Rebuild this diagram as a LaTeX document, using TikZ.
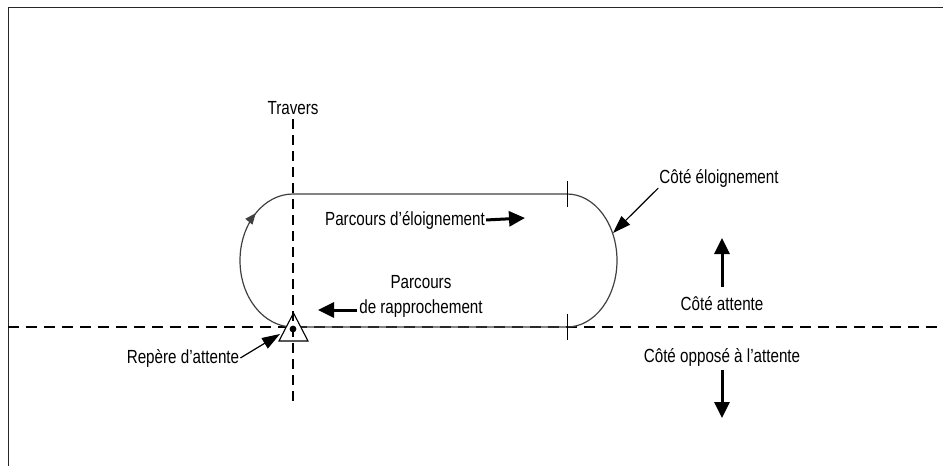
\documentclass[tikz,border=0pt]{standalone}
\usepackage{fontspec}
\setmainfont[FakeStretch=0.8]{Liberation Sans}
\usetikzlibrary{arrows.meta,decorations.markings}

\begin{document}
\begin{tikzpicture}[x=1pt,y=-1pt,>=Latex,
lbl/.style={font=\fontsize{19}{25}\selectfont,inner sep=1pt,align=center},
track/.style={line width=1.2pt,black!75},
axis/.style={line width=2pt,dash pattern=on 11pt off 7pt},
bigarrow/.style={-{Triangle[length=16pt,width=15pt]},line width=3pt},
pointer/.style={-{Triangle[length=18pt,width=12pt]},line width=1.2pt}]
 \useasboundingbox (0,0) rectangle (943,466);
 \draw[line width=1.6pt,black!85] (8.5,466) -- (8.5,7.5) -- (943,7.5);
 \coordinate (fix) at (293,327);
 \coordinate (abeam) at (293,194);
 \coordinate (endout) at (567,194);
 \coordinate (endin) at (567,327);
 \coordinate (armR) at (613,233);
 \coordinate (armfix) at (280,334);
 \coordinate (sideL) at (8,327);
 \coordinate (sideR) at (943,327);
 \coordinate (travT) at (293,119);
 \coordinate (travB) at (293,407);
 \coordinate (outtip) at (525,218);
 \coordinate (intail) at (357,310);
 \coordinate (intip) at (318,310);
 \coordinate (uptail) at (722,287);
 \coordinate (uptip) at (722,238);
 \coordinate (dntail) at (722,370);
 \coordinate (dntip) at (722,418);
 \draw[axis] (sideL) -- (sideR);
 \draw[track] (abeam) -- (endout) arc[start angle=-90,end angle=90,x radius=50,y radius=66.5] -- (fix);
 \draw[track,postaction={decorate},decoration={markings,mark=at position 0.77 with {\arrow{Triangle[length=11pt,width=9pt]}}}]
  (fix) arc[start angle=90,end angle=270,x radius=53,y radius=66.5];
 \draw[line width=1pt] ([yshift=13pt]endout) -- ([yshift=-13pt]endout);
 \draw[line width=1pt] ([yshift=13pt]endin) -- ([yshift=-13pt]endin);
 \draw[line width=1.1pt,fill=white] (279,341) -- (293.5,313) -- (308,341) -- cycle;
 \draw[axis,line width=2.6pt,dash pattern=on 10pt off 6pt] (travT) -- (travB);
 \fill (293,329) circle (3.4pt);
 \node[lbl,anchor=base] (travers) at (293,114) {Travers};
 \node[lbl,anchor=base] (outb) at (405,225) {Parcours d'éloignement};
 \node[lbl] (inb) at (421,296) {Parcours\\de rapprochement};
 \node[lbl,anchor=base] (awayside) at (719,183) {Côté éloignement};
 \node[lbl,anchor=base] (holdside) at (722,310) {Côté attente};
 \node[lbl,anchor=base] (nonhold) at (722,362) {Côté opposé à l'attente};
 \node[lbl,anchor=base] (fixlbl) at (183,363) {Repère d'attente};
 \draw[bigarrow] (outb.east) -- (outtip);
 \draw[bigarrow] (intail) -- (intip);
 \draw[bigarrow] (uptail) -- (uptip);
 \draw[bigarrow] (dntail) -- (dntip);
 \draw[pointer] (awayside.south west) -- (armR);
 \draw[pointer] (fixlbl.east) -- (armfix);
\end{tikzpicture}
\end{document}
